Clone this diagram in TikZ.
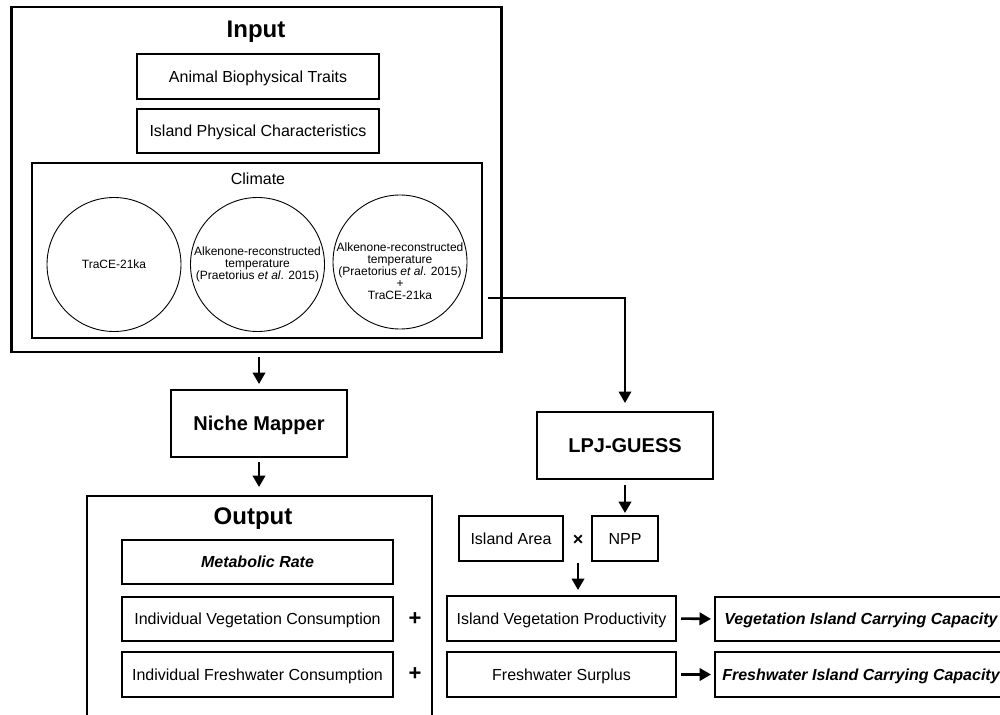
\documentclass[tikz,border=0pt]{standalone}
\usepackage{fontspec}
\setmainfont{Liberation Sans}
\usetikzlibrary{arrows.meta}
\begin{document}
\begin{tikzpicture}[x=1pt,y=-1pt,
  every node/.style={inner sep=0pt,outer sep=0pt},
  thickbox/.style={draw,line width=2.6pt},
  thinbox/.style={draw,line width=1.2pt},
  circ/.style={draw,circle,line width=0.9pt,minimum size=134pt},
  txtreg/.style={font=\fontsize{16}{19}\selectfont,text height=11.5pt,text depth=0pt},
  txtbi/.style={font=\fontsize{16}{19}\selectfont\bfseries\itshape,text height=11.5pt,text depth=0pt},
  txtbold/.style={font=\fontsize{20}{24}\selectfont\bfseries,text height=14.3pt,text depth=0pt},
  titletxt/.style={font=\fontsize{24}{28}\selectfont\bfseries,anchor=base},
  smalltxt/.style={font=\fontsize{12}{11.8}\selectfont,align=center},
  arr/.style={line width=2.6pt,-{Triangle[length=11.5pt,width=12.5pt]}},
  thinarr/.style={line width=2.2pt,-{Triangle[length=11.5pt,width=12.5pt]}},
  signtxt/.style={font=\fontsize{22}{24}\selectfont\bfseries}
]
\clip (0,0) rectangle (1000,714);
\useasboundingbox (0,0) rectangle (1000,714);

% Input block
\node[thickbox,minimum width=490pt,minimum height=345pt] (input) at (256.25,179.5) {};
\node[titletxt] (intitle) at (256,37.5) {Input};
\node[thinbox,txtreg,minimum width=242pt,minimum height=45pt] (animal) at (258,76.5) {Animal Biophysical Traits};
\node[thinbox,txtreg,minimum width=242pt,minimum height=44pt] (island) at (258,131) {Island Physical Characteristics};
\node[thinbox,minimum width=450pt,minimum height=175pt] (climate) at (257,250.5) {};
\node[font=\fontsize{16}{19}\selectfont,anchor=base] (climtitle) at (258,184.3) {Climate};
\node[circ,font=\fontsize{12}{14}\selectfont] (c1) at (114,264.5) {TraCE-21ka};
\node[circ,smalltxt] (c2) at (257.5,264.5) {Alkenone-reconstructed\\temperature\\(Praetorius \textit{et al}. 2015)};
\node[circ] (c3) at (400,262) {};
\node[smalltxt,font=\fontsize{12}{12}\selectfont] (c3t) at (400,271) {Alkenone-reconstructed\\temperature\\(Praetorius \textit{et al}. 2015)\\+\\TraCE-21ka};

% Niche Mapper
\node[thickbox,txtbold,minimum width=176pt,minimum height=67pt] (niche) at (259,423.5) {Niche Mapper};

% Output block
\node[thickbox,minimum width=345pt,minimum height=224pt] (output) at (259.5,608) {};
\node[titletxt] (outtitle) at (253,524) {Output};
\node[thinbox,txtbi,minimum width=271pt,minimum height=44pt] (meta) at (257.5,562) {Metabolic Rate};
\node[thinbox,txtreg,minimum width=271pt,minimum height=44pt] (ivc) at (257.5,619) {Individual Vegetation Consumption};
\node[thinbox,txtreg,minimum width=271pt,minimum height=45pt] (ifc) at (257.5,674.5) {Individual Freshwater Consumption};
\node[signtxt] (plus1) at (415,619) {+};
\node[signtxt] (plus2) at (415,674.5) {+};

% LPJ-GUESS branch
\coordinate (lstart) at (488,298);
\node[thickbox,txtbold,minimum width=176pt,minimum height=67pt] (lpj) at (625,445.5) {LPJ-GUESS};
\node[thinbox,txtreg,minimum width=104pt,minimum height=45pt] (area) at (511,538.5) {Island Area};
\node[font=\fontsize{18}{20}\selectfont\bfseries] (times) at (578,540) {×};
\node[thinbox,txtreg,minimum width=66pt,minimum height=45pt] (npp) at (625,538.5) {NPP};
\node[thinbox,txtreg,minimum width=229pt,minimum height=45pt] (ivp) at (561.5,618.5) {Island Vegetation Productivity};
\node[thinbox,txtreg,minimum width=229pt,minimum height=45pt] (fws) at (561.5,674.5) {Freshwater Surplus};
\node[thinbox,txtbi,minimum width=292pt,minimum height=44pt] (vicc) at (861,619) {Vegetation Island Carrying Capacity};
\node[thinbox,txtbi,minimum width=292pt,minimum height=45pt] (ficc) at (861,674.5) {Freshwater Island Carrying Capacity};

% connectors
\draw[arr,shorten <=5pt,shorten >=6pt] (input.south -| niche.north) -- (niche.north);
\draw[arr,shorten <=5pt,shorten >=9pt] (niche.south) -- (niche.south |- output.north);
\draw[thinarr,shorten >=9pt] (lstart) -| (lpj.north);
\draw[arr,shorten <=6pt,shorten >=3pt] (lpj.south) -- (npp.north);
\draw[arr,shorten <=2pt,shorten >=6pt] (times.center |- area.south) -- (times.center |- ivp.north);
\draw[arr,shorten <=5pt,shorten >=4pt] (ivp.east) -- (vicc.west);
\draw[arr,shorten <=5pt,shorten >=4pt] (fws.east) -- (ficc.west);
\end{tikzpicture}
\end{document}
